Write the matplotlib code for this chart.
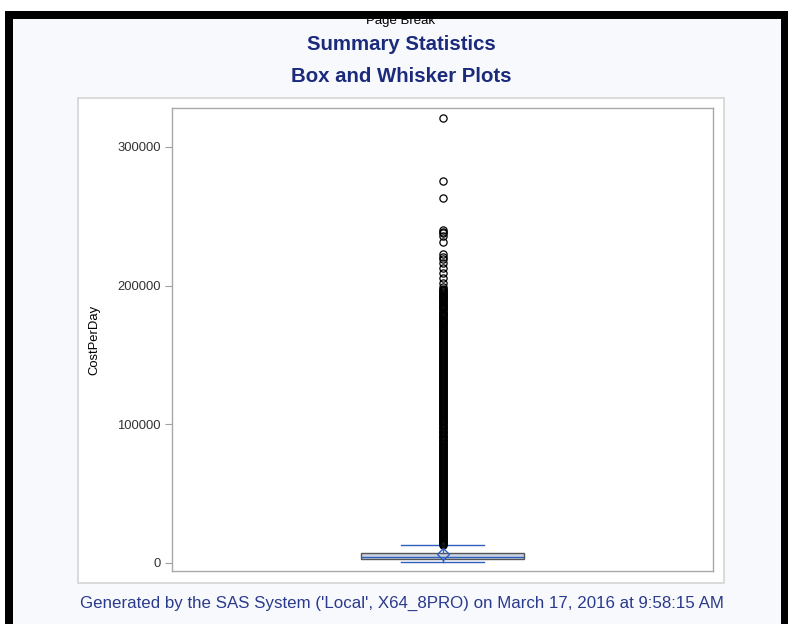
import matplotlib
matplotlib.use("Agg")
import matplotlib.pyplot as plt
from matplotlib.patches import Rectangle

# ---- data ----
variable = "CostPerDay"
box_whislo = 700
box_q1 = 2900
box_med = 4600
box_q3 = 7100
box_whishi = 13100
box_mean = 6300
outliers_high = [320800, 275400, 263000, 240100, 238600, 237800, 235800, 231400,
                 222800, 220800, 219200, 216300, 212900, 209100, 205500, 201900,
                 199000, 197500, 196800, 196200, 195400, 194700, 194000, 193400,
                 192800, 192100, 191500, 190800, 190200, 189500, 188900, 188100,
                 187300, 186600, 186000, 185400, 184800, 184100, 183500, 182800,
                 182100, 181300, 180600, 180000, 179400, 178700, 178000, 177300,
                 176700, 176000, 175300, 174700, 174100, 173400, 172800, 172100,
                 171500, 170800, 170200]
outliers_dense_a = [168800, 167300, 165900, 164400, 163000, 161500, 160100, 158600,
                    157200, 155700, 154300, 152800, 151400, 149900, 148500, 147000,
                    145600, 144100, 142700, 141200, 139800, 138300, 136900, 135400,
                    134000, 132500, 131100, 129600, 128200, 126700, 125300, 123800,
                    122400, 120900, 119500, 118000, 116600, 115100, 113700, 112200,
                    110800, 109300, 107900, 106400, 105000, 103500, 102100, 100600,
                    99200, 97700, 96300, 94800, 93400, 91900, 90500, 89000, 87600,
                    86100, 84700, 83200, 81800, 80300, 78900, 77400, 76000, 74500,
                    73100, 71600, 70200, 68700, 67300, 65800, 64400, 62900, 61500,
                    60000, 58600, 57100, 55700, 54200, 52800, 51300, 49900, 48400,
                    47000, 45500, 44100, 42600, 41200, 39700, 38300, 36800, 35400,
                    33900, 32500, 31000, 29600, 28100, 26700, 25200, 23800, 22300,
                    20900, 19400, 18000, 16500, 15100, 13600]
outliers_dense_b = [169500, 168000, 166600, 165100, 163700, 162200, 160800, 159300,
                    157900, 156400, 155000, 153500, 152100, 150600, 149200, 147700,
                    146300, 144800, 143400, 141900, 140500, 139000, 137600, 136100,
                    134700, 133200, 131800, 130300, 128900, 127400, 126000, 124500,
                    123100, 121600, 120200, 118700, 117300, 115800, 114400, 112900,
                    111500, 110000, 108600, 107100, 105700, 104200, 102800, 101300,
                    99900, 98400, 97000, 95500, 94100, 92600, 91200, 89700, 88300,
                    86800, 85400, 83900, 82500, 81000, 79600, 78100, 76700, 75200,
                    73800, 72300, 70900, 69400, 68000, 66500, 65100, 63600, 62200,
                    60700, 59300, 57800, 56400, 54900, 53500, 52000, 50600, 49100,
                    47700, 46200, 44800, 43300, 41900, 40400, 39000, 37500, 36100,
                    34600, 33200, 31700, 30300, 28800, 27400, 25900, 24500, 23000,
                    21600, 20100, 18700, 17200, 15800, 14300, 13200]
outliers = outliers_high + outliers_dense_a + outliers_dense_b
yticks = [0, 100000, 200000, 300000]
ytick_labels = ["0", "100000", "200000", "300000"]

W, H = 788, 624
fig = plt.figure(figsize=(W / 100, H / 100), dpi=100)
fig.patch.set_facecolor("white")

def fx(x):
    return x / W

def fy(y):
    return 1 - y / H

# page background
fig.patches.append(Rectangle((fx(13), fy(624)), fx(781) - fx(13), fy(19) - fy(624),
                             transform=fig.transFigure, facecolor="#F8F9FD",
                             edgecolor="none", zorder=0))
# black frame
fig.patches.append(Rectangle((fx(5), fy(624)), fx(8), fy(11) - fy(624),
                             transform=fig.transFigure, facecolor="black", edgecolor="none", zorder=5))
fig.patches.append(Rectangle((fx(781), fy(624)), fx(7), fy(11) - fy(624),
                             transform=fig.transFigure, facecolor="black", edgecolor="none", zorder=5))
fig.patches.append(Rectangle((fx(5), fy(19)), fx(783) - fx(5), fy(11) - fy(19),
                             transform=fig.transFigure, facecolor="black", edgecolor="none", zorder=5))
# white panel
fig.patches.append(Rectangle((fx(78), fy(583)), fx(724) - fx(78), fy(98) - fy(583),
                             transform=fig.transFigure, facecolor="white",
                             edgecolor="#D4D4D4", linewidth=1.2, zorder=1))

fig.text(fx(401), fy(21), "Page Break", ha="center", va="center", fontsize=9.5,
         family="Liberation Sans", color="black", zorder=2)
fig.text(fx(401.5), fy(44), "Summary Statistics", ha="center", va="center", fontsize=14.7,
         family="Liberation Sans", weight="bold", color="#1B2A7B")
fig.text(fx(401.5), fy(77), "Box and Whisker Plots", ha="center", va="center", fontsize=14.7,
         family="Liberation Sans", weight="bold", color="#1B2A7B")
fig.text(fx(402), fy(603), "Generated by the SAS System ('Local', X64_8PRO) on March 17, 2016 at 9:58:15 AM",
         ha="center", va="center", fontsize=12.2, family="Liberation Sans", color="#2A3A8C")

ax = fig.add_axes([fx(172), fy(571), fx(713) - fx(172), fy(108) - fy(571)])
ax.set_facecolor("white")
ax.set_zorder(3)

stats = [dict(whislo=box_whislo, q1=box_q1, med=box_med, q3=box_q3,
              whishi=box_whishi, mean=box_mean, fliers=outliers, label="")]
ax.bxp(stats, positions=[0.5], widths=[0.301], capwidths=[0.152],
       showmeans=True, patch_artist=True, showfliers=True,
       boxprops=dict(facecolor="#C9D3E1", edgecolor="#555555", linewidth=1.0),
       medianprops=dict(color="#2E5FBF", linewidth=1.0),
       whiskerprops=dict(color="#2E5FBF", linewidth=1.0),
       capprops=dict(color="#2E5FBF", linewidth=1.0),
       meanprops=dict(marker="D", markerfacecolor="none", markeredgecolor="#2E5FBF",
                      markersize=6, markeredgewidth=1.0),
       flierprops=dict(marker="o", markerfacecolor="none", markeredgecolor="black",
                       markersize=5.2, markeredgewidth=0.9))

ax.set_xlim(0, 1)
ax.set_ylim(-5770, 328050)
ax.set_xticks([])
ax.set_yticks(yticks)
ax.set_yticklabels(ytick_labels, family="Liberation Sans", fontsize=9.4, color="#333333")
ax.tick_params(axis="y", length=5, color="#A0A0A0", width=0.8, pad=3)
for s in ax.spines.values():
    s.set_color("#A8A8A8")
    s.set_linewidth(1.0)
ax.set_ylabel(variable, family="Liberation Sans", fontsize=9.4, color="black", labelpad=12)

fig.savefig("out.png", dpi=100, facecolor=fig.get_facecolor())
